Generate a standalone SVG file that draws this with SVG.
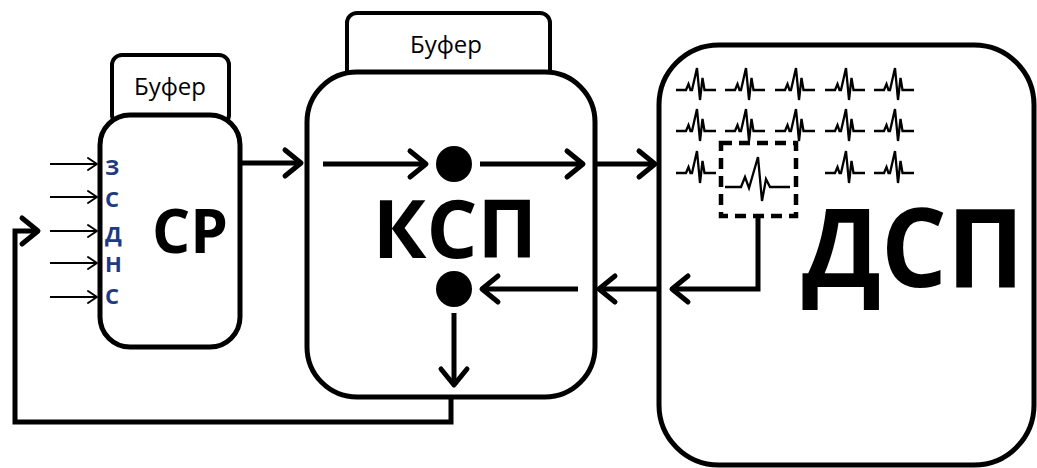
<svg xmlns="http://www.w3.org/2000/svg" width="1037" height="468" viewBox="0 0 1037 468">
<defs>
<style>
.box{fill:#fff;stroke:#000;stroke-width:5}
.tab{fill:#fff;stroke:#000;stroke-width:4}
.tabtxt{font-family:"Open Sans","Liberation Sans",sans-serif;font-size:24px;fill:#000;text-anchor:middle}
.big{font-family:"Open Sans","Liberation Sans",sans-serif;font-weight:bold;fill:#000;text-anchor:middle}
.inp{font-family:"Open Sans","Liberation Sans",sans-serif;font-weight:bold;font-size:22px;fill:#1f3a80}
.thick{fill:none;stroke:#000;stroke-width:5}
.thin{fill:none;stroke:#000;stroke-width:2}
.sig{fill:none;stroke:#000;stroke-width:2.3;stroke-linejoin:miter}
.dash{fill:none;stroke:#000;stroke-width:4.5;stroke-dasharray:11 7}
</style>
<marker id="ah" viewBox="-22 -16 26 32" refX="0" refY="0" markerWidth="26" markerHeight="32" markerUnits="userSpaceOnUse" orient="auto" overflow="visible">
<path d="M-16,-13 L0,0 L-16,13" fill="none" stroke="#000" stroke-width="5" stroke-linecap="round" stroke-linejoin="round"/>
</marker>
<marker id="ahs" viewBox="-12 -8 14 16" refX="0" refY="0" markerWidth="14" markerHeight="16" markerUnits="userSpaceOnUse" orient="auto" overflow="visible">
<path d="M-9,-6 L0,0 L-9,6" fill="none" stroke="#000" stroke-width="2" stroke-linecap="round" stroke-linejoin="round"/>
</marker>
<path id="ecg" d="M0,0 H10 L12.5,-6 L14.5,0 H16 L21,-22 L24,10 L26.5,-12 L28.5,0 H40"/>
</defs>

<g id="cp">
<rect class="tab" x="112" y="55" width="117" height="70" rx="10"/>
<rect class="box" x="100" y="115" width="140" height="232" rx="30"/>
<text class="tabtxt" x="170" y="95">Буфер</text>
<text class="big" x="190" y="253" font-size="60">СР</text>
<text class="inp" x="105" y="175">З</text>
<text class="inp" x="105" y="207">С</text>
<text class="inp" x="105" y="242">Д</text>
<text class="inp" x="105" y="272">Н</text>
<text class="inp" x="105" y="304">С</text>
</g>

<g id="ksp">
<rect class="tab" x="347" y="13" width="203" height="70" rx="10"/>
<rect class="box" x="307" y="72" width="288" height="325" rx="50"/>
<text class="tabtxt" x="446" y="53">Буфер</text>
<text class="big" x="455" y="258" font-size="80">КСП</text>
<circle cx="454" cy="164" r="18" fill="#000"/>
<circle cx="454" cy="289" r="18" fill="#000"/>
</g>

<g id="dsp">
<rect class="box" x="659" y="45" width="375" height="420" rx="60"/>
<text class="big" font-size="110" transform="translate(913,287) scale(0.94,1)">ДСП</text>
<g class="sig">
<use href="#ecg" x="676" y="90"/><use href="#ecg" x="725" y="90"/><use href="#ecg" x="775" y="90"/><use href="#ecg" x="825" y="90"/><use href="#ecg" x="874" y="90"/>
<use href="#ecg" x="676" y="131"/><use href="#ecg" x="725" y="131"/><use href="#ecg" x="775" y="131"/><use href="#ecg" x="825" y="131"/><use href="#ecg" x="874" y="131"/>
<use href="#ecg" x="676" y="173"/><use href="#ecg" x="825" y="173"/><use href="#ecg" x="874" y="173"/>
<path d="M725,187 H741 L745,177 L749,188 L758,157 L762,201 L766,179 L770,187 H790"/>
</g>
<rect class="dash" x="721" y="143" width="75" height="73"/>
</g>

<g id="connectors">
<line class="thin" x1="50" y1="164" x2="97" y2="164" marker-end="url(#ahs)"/>
<line class="thin" x1="50" y1="197" x2="97" y2="197" marker-end="url(#ahs)"/>
<line class="thin" x1="50" y1="231" x2="97" y2="231" marker-end="url(#ahs)"/>
<line class="thin" x1="50" y1="263" x2="97" y2="263" marker-end="url(#ahs)"/>
<line class="thin" x1="50" y1="297" x2="97" y2="297" marker-end="url(#ahs)"/>
<line class="thick" x1="242" y1="163" x2="301" y2="163" marker-end="url(#ah)"/>
<line class="thick" x1="323" y1="164" x2="426" y2="164" marker-end="url(#ah)"/>
<line class="thick" x1="480" y1="164" x2="583" y2="164" marker-end="url(#ah)"/>
<line class="thick" x1="597" y1="164" x2="655" y2="164" marker-end="url(#ah)"/>
<line class="thick" x1="578" y1="289" x2="482" y2="289" marker-end="url(#ah)"/>
<line class="thick" x1="657" y1="289" x2="599" y2="289" marker-end="url(#ah)"/>
<path class="thick" d="M758,216 V289 H672" marker-end="url(#ah)"/>
<line class="thick" x1="454" y1="313" x2="454" y2="385" marker-end="url(#ah)"/>
<path class="thick" d="M451,397 V422 H15 V231 H38" marker-end="url(#ah)"/>
</g>
</svg>
